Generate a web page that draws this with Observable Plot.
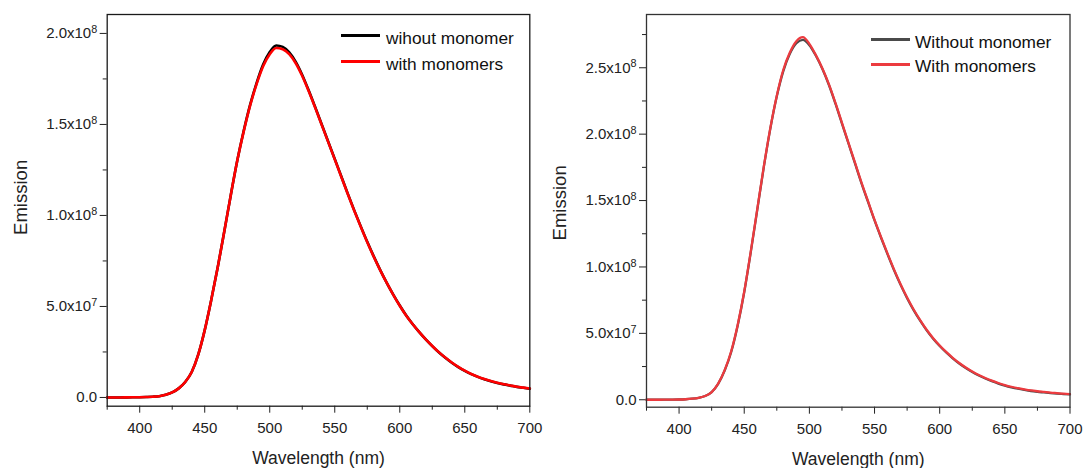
<!DOCTYPE html>
<html>
<head>
<meta charset="utf-8">
<script src="https://cdn.jsdelivr.net/npm/d3@7"></script>
<script src="https://cdn.jsdelivr.net/npm/@observablehq/plot@0.6"></script>
<style>
  html, body { margin: 0; padding: 0; background: #fff; }
  #wrap { position: relative; display: flex; width: 1085px; height: 468px; overflow: hidden; background: #fff; }
  #wrap svg { position: relative; }
  .sw { position: absolute; height: 3px; }
  .lt { position: absolute; font-family: "Liberation Sans", Arial, sans-serif; font-size: 17.3px; line-height: 22px; color: #111; white-space: nowrap; }
</style>
</head>
<body>
<div id="wrap"></div>
<script>
// ---------- data (emission in units of 1e6) ----------
const wavelength = [375,380,385,390,395,400,405,410,415,420,425,430,435,440,445,450,455,460,465,470,475,480,485,490,495,500,505,510,515,520,525,530,535,540,545,550,555,560,565,570,575,580,585,590,595,600,605,610,615,620,625,630,635,640,645,650,655,660,665,670,675,680,685,690,695,700];

// left panel
const leftWithout = [0,0,0,0.05,0.1,0.15,0.25,0.4,0.7,1.5,2.8,5.0,8.5,14,23.5,37,53.5,71.5,91,111,130,146.5,161,173,183,189.8,193.4,192.6,189.6,184.4,177.2,168.6,159.4,150,140.5,131,121.5,112,102.8,94,85.5,77.5,70,63,56.5,50.5,45,40.2,35.9,31.9,28.2,24.8,21.8,19.1,16.7,14.6,12.8,11.3,10,8.9,8.0,7.2,6.5,5.8,5.3,4.8];
const leftWith    = [0,0,0,0.05,0.1,0.15,0.25,0.4,0.7,1.5,2.8,5.0,8.5,14,23.5,37,53.5,71.5,91,111,130,146.2,160.6,172.4,182.1,188.6,192.0,191.3,188.6,183.6,176.6,168.2,159.1,149.7,140.3,130.8,121.3,111.8,102.6,93.8,85.3,77.3,69.8,62.9,56.4,50.4,44.9,40.2,35.9,31.9,28.3,24.9,21.9,19.2,16.8,14.7,12.9,11.4,10.1,9.0,8.1,7.3,6.6,5.9,5.4,4.9];

// right panel
const rightWithout = [0,0,0,0.05,0.1,0.2,0.4,0.8,1.5,2.8,5.8,12,22,36,56,81,111,143,175,204,228.5,247.5,260.5,268.5,271,267,259,249,237,223,208,193,178,163,149,135,122,109.5,97.5,86.5,76.5,67.5,59.5,52.3,46,40.5,35.6,31.2,27.3,23.9,20.9,18.3,16,14,12.2,10.7,9.4,8.3,7.4,6.6,6,5.5,5.0,4.6,4.3,4.0];
const rightWith    = [0,0,0,0.05,0.1,0.2,0.4,0.8,1.5,2.8,5.8,12.2,22.3,36.5,56.5,81.5,111.5,143.5,175.5,204.5,229,248.5,261.5,270,273,268,259.5,249.5,237.5,223.5,208.5,193.5,178.5,163.5,149.5,135.5,122.5,110,98,87,77,68,60,52.7,46.4,40.9,36,31.6,27.7,24.3,21.3,18.7,16.4,14.4,12.6,11.1,9.8,8.7,7.8,7.0,6.4,5.9,5.4,5.0,4.6,4.3];

const xMajor = [400, 450, 500, 550, 600, 650, 700];
const xMinor = [375, 425, 475, 525, 575, 625, 675];
const leftYMajor = [0, 5e7, 1e8, 1.5e8, 2e8];
const leftYMinor = [2.5e7, 7.5e7, 1.25e8, 1.75e8];
const rightYMajor = [0, 5e7, 1e8, 1.5e8, 2e8, 2.5e8];
const rightYMinor = [2.5e7, 7.5e7, 1.25e8, 1.75e8, 2.25e8, 2.75e8];

const leftNames = ["wihout monomer", "with monomers"];
const rightNames = ["Without monomer", "With monomers"];
const leftColors = ["#000000", "#ff0000"];
const rightColors = ["#4a4a4a", "#ec3b3f"];

// ---------- helpers ----------
const FONT = '"Liberation Sans", Arial, sans-serif';
const rows = (arr) => wavelength.map((w, i) => ({w, v: arr[i] * 1e6}));
function sci(v) {
  if (v === 0) return "0.0";
  const e = Math.floor(Math.log10(v) + 1e-9);
  const m = v / Math.pow(10, e);
  return m.toFixed(1) + "x10^" + e;
}

function panel(o) {
  const svg = Plot.plot({
    width: o.width, height: 468,
    marginLeft: o.ml, marginRight: o.mr, marginTop: 14, marginBottom: o.mb,
    style: {fontFamily: FONT, fontSize: "15px", color: "#222", background: "transparent", overflow: "visible"},
    x: {domain: [375, 700]},
    y: {domain: o.yDomain},
    marks: [
      Plot.axisX(xMajor, {tickSize: 7, tickPadding: 9, label: null, fontSize: 15, stroke: "#222"}),
      Plot.axisX(xMinor, {tickSize: 4, tickFormat: () => "", label: null, stroke: "#222"}),
      Plot.axisY(o.yMajor, {tickSize: 7, tickPadding: 3, tickFormat: sci, label: null, fontSize: 15, stroke: "#222"}),
      Plot.axisY(o.yMinor, {tickSize: 4, tickFormat: () => "", label: null, stroke: "#222"}),
      Plot.line(rows(o.s1), {x: "w", y: "v", stroke: o.colors[0], strokeWidth: o.sw, curve: "monotone-x"}),
      Plot.line(rows(o.s2), {x: "w", y: "v", stroke: o.colors[1], strokeWidth: o.sw, curve: "monotone-x"}),
      Plot.frame({stroke: o.frame, strokeWidth: 1.3}),
      Plot.text(["Wavelength (nm)"], {text: d => d, frameAnchor: "bottom", dy: 52, lineAnchor: "middle", textAnchor: "middle", fontSize: 17.5, fill: "#222"}),
      Plot.text(["Emission"], {text: d => d, frameAnchor: "left", dx: o.ydx, dy: o.ydy, rotate: -90, lineAnchor: "middle", textAnchor: "middle", fontSize: 18.5, fill: "#222"})
    ]
  });
  // superscript exponents in tick labels
  d3.select(svg).selectAll("text").each(function () {
    const t = this.textContent;
    const m = t.match(/^(.*x10)\^(\d+)$/);
    if (m) {
      const el = d3.select(this);
      el.text(null);
      el.append("tspan").text(m[1]);
      el.append("tspan").attr("dy", "-0.48em").attr("font-size", "0.72em").text(m[2]);
    }
  });
  return svg;
}

const wrap = document.getElementById("wrap");
const right = panel({
  width: 545, ml: 106, mr: 15.5, mb: 61.3,
  yDomain: [-5.6e6, 2.901e8], yMajor: rightYMajor, yMinor: rightYMinor,
  s1: rightWithout, s2: rightWith, colors: rightColors, sw: 2.3, frame: "#333",
  ydx: -86, ydy: -8
});
const left = panel({
  width: 540, ml: 106.7, mr: 10.7, mb: 62.3,
  yDomain: [-4.8e6, 2.104e8], yMajor: leftYMajor, yMinor: leftYMinor,
  s1: leftWithout, s2: leftWith, colors: leftColors, sw: 2.6, frame: "#1a1a1a",
  ydx: -86.4, ydy: -13
});
left.style.zIndex = "2";
wrap.appendChild(left);
wrap.appendChild(right);

// legends (page coordinates)
function legend(items) {
  for (const it of items) {
    const sw = document.createElement("div");
    sw.className = "sw";
    sw.style.left = it.lx + "px"; sw.style.width = it.lw + "px";
    sw.style.top = (it.ly - 1.5) + "px"; sw.style.background = it.color;
    wrap.appendChild(sw);
    const tx = document.createElement("div");
    tx.className = "lt";
    tx.style.left = it.tx + "px"; tx.style.top = (it.base - 16.6) + "px";
    tx.textContent = it.name;
    wrap.appendChild(tx);
  }
}
legend([
  {name: leftNames[0], color: leftColors[0], lx: 341, lw: 39, ly: 35.7, tx: 386, base: 44},
  {name: leftNames[1], color: leftColors[1], lx: 341, lw: 39, ly: 61.7, tx: 386, base: 69.3},
  {name: rightNames[0], color: rightColors[0], lx: 871, lw: 39, ly: 39.3, tx: 915, base: 47.3},
  {name: rightNames[1], color: rightColors[1], lx: 871, lw: 39, ly: 64, tx: 915, base: 71.7}
]);
</script>
</body>
</html>
